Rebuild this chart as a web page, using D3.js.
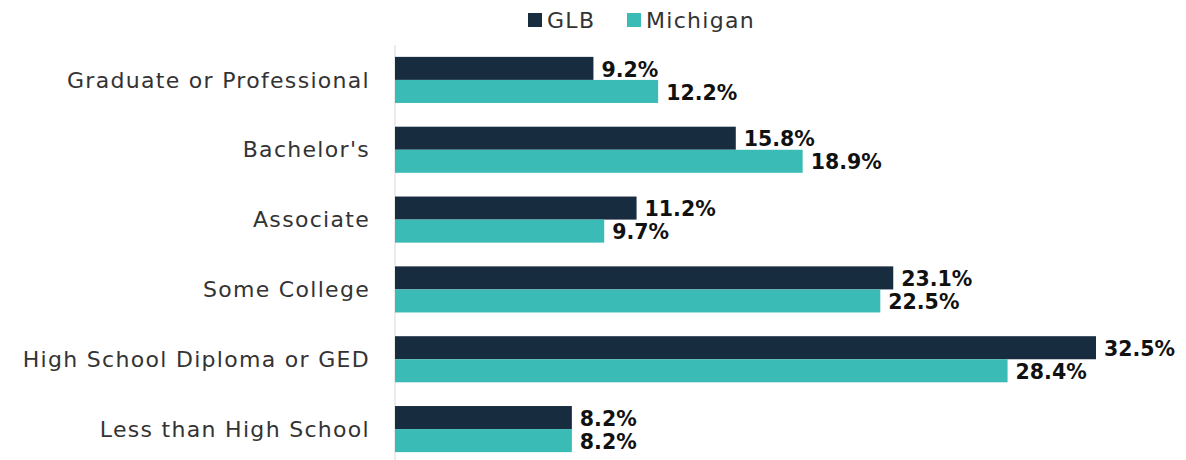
<!DOCTYPE html>
<html>
<head>
<meta charset="utf-8">
<script src="https://cdn.jsdelivr.net/npm/d3@7"></script>
<style>
  body { margin: 0; background: #fff; }
  text { font-family: "DejaVu Sans", sans-serif; }
</style>
</head>
<body>
<div id="chart"></div>
<script>
let width = 1186,
    height = 460,
    margin = ({ top: 45, right: 90, bottom: -4, left: 395 });

const categories = ["Graduate or Professional", "Bachelor's", "Associate", "Some College", "High School Diploma or GED", "Less than High School"];
const series = ["GLB", "Michigan"];
const glb = [9.2, 15.8, 11.2, 23.1, 32.5, 8.2];
const michigan = [12.2, 18.9, 9.7, 22.5, 28.4, 8.2];
const colors = ["#182c40", "#3bbbb5"];

const rows = categories.map((c, i) => ({ category: c, values: [glb[i], michigan[i]] }));

const svg = d3.select("#chart")
    .append("svg")
    .attr("width", width)
    .attr("height", height);

let x = d3.scaleLinear() // 0 at the axis line
    .domain([0, 32.5])
    .range([margin.left, 1096]);

let y = d3.scaleBand()
    .domain(categories)
    .range([margin.top, height - margin.bottom])
    .paddingInner(0.34)
    .paddingOuter(0.17);

let ySub = d3.scaleBand()
    .domain(series)
    .range([0, y.bandwidth()]);

// vertical axis line
svg.append("line")
    .attr("x1", x(0)).attr("x2", x(0))
    .attr("y1", margin.top).attr("y2", height)
    .attr("stroke", "#d9d9d9")
    .attr("stroke-width", 1);

// category labels
svg.append("g")
    .selectAll("text")
    .data(categories)
    .join("text")
    .attr("x", 370)
    .attr("y", d => y(d) + y.bandwidth() / 2)
    .attr("dy", "0.35em")
    .attr("text-anchor", "end")
    .attr("font-size", 22)
    .attr("letter-spacing", 1.3)
    .attr("fill", "#333")
    .text(d => d);

const groups = svg.append("g")
    .selectAll("g")
    .data(rows)
    .join("g")
    .attr("transform", d => `translate(0,${y(d.category)})`);

groups.selectAll("rect")
    .data(d => d.values.map((v, j) => ({ key: series[j], value: v, j })))
    .join("rect")
    .attr("x", x(0))
    .attr("y", d => ySub(d.key))
    .attr("width", d => x(d.value) - x(0))
    .attr("height", ySub.bandwidth())
    .attr("fill", d => colors[d.j]);

groups.selectAll("text")
    .data(d => d.values.map((v, j) => ({ key: series[j], value: v })))
    .join("text")
    .attr("x", d => x(d.value) + 8)
    .attr("y", d => ySub(d.key) + ySub.bandwidth() / 2 + 1)
    .attr("dy", "0.35em")
    .attr("font-size", 20.5)
    .attr("font-weight", "bold")
    .attr("fill", "#111")
    .text(d => d.value.toFixed(1) + "%");

// legend
const legend = svg.append("g");
const legendX = [528, 627];
series.forEach((s, i) => {
  legend.append("rect")
    .attr("x", legendX[i]).attr("y", 13)
    .attr("width", 14).attr("height", 14)
    .attr("fill", colors[i]);
  legend.append("text")
    .attr("x", legendX[i] + 19)
    .attr("y", 20)
    .attr("dy", "0.35em")
    .attr("font-size", 22)
    .attr("letter-spacing", 1.3)
    .attr("fill", "#333")
    .text(s);
});
</script>
</body>
</html>
